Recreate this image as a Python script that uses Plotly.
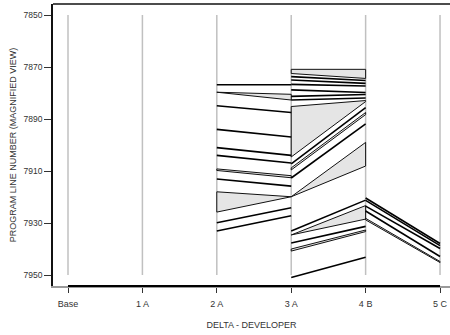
import plotly.graph_objects as go

categories = ["Base", "1 A", "2 A", "3 A", "4 B", "5 C"]
y_ticks = [7850, 7870, 7890, 7910, 7930, 7950]
grid_top = 7850
grid_bottom = 7950

# Transition 2 A -> 3 A : block edges (source top/bottom, destination top/bottom)
a2_src_top = [7876.8, 7879.7, 7884.9, 7894.0, 7901.0, 7904.0, 7909.2, 7913.1, 7918.0, 7929.9, 7933.1]
a2_src_bot = [7876.8, 7879.7, 7884.9, 7894.0, 7901.0, 7904.0, 7909.8, 7913.1, 7925.8, 7929.9, 7933.1]
a2_dst_top = [7876.8, 7880.5, 7887.5, 7896.9, 7904.0, 7906.9, 7911.8, 7915.8, 7919.9, 7924.1, 7927.2]
a2_dst_bot = [7876.8, 7882.7, 7887.5, 7896.9, 7904.0, 7906.9, 7912.6, 7915.8, 7919.9, 7924.1, 7927.2]

# Transition 3 A -> 4 B
a3_src_top = [7870.9, 7873.7, 7875.0, 7876.7, 7878.8, 7881.3, 7882.7, 7885.2, 7907.3, 7908.8, 7912.7,
              7919.9, 7933.1, 7934.6, 7937.7, 7940.0, 7951.0]
a3_src_bot = [7872.5, 7873.7, 7875.0, 7876.7, 7878.8, 7881.3, 7882.7, 7904.6, 7907.3, 7909.6, 7912.7,
              7919.9, 7933.1, 7934.6, 7937.7, 7940.8, 7951.0]
a3_dst_top = [7870.9, 7875.2, 7876.3, 7877.3, 7879.8, 7880.6, 7881.9, 7882.9, 7885.6, 7887.5, 7891.9,
              7899.0, 7921.2, 7923.3, 7931.3, 7932.7, 7943.2]
a3_dst_bot = [7874.4, 7875.2, 7876.3, 7877.3, 7879.8, 7880.6, 7881.9, 7883.3, 7885.6, 7888.3, 7891.9,
              7908.1, 7921.2, 7928.5, 7931.3, 7933.3, 7943.2]

# Transition 4 B -> 5 C
b4_src_top = [7920.4, 7921.3, 7923.5, 7925.4, 7928.2]
b4_src_bot = [7920.4, 7921.3, 7923.5, 7925.4, 7928.8]
b4_dst_top = [7937.9, 7938.7, 7939.8, 7942.9, 7944.8]
b4_dst_bot = [7937.9, 7938.7, 7939.8, 7942.9, 7945.2]

transitions = [
    (2, a2_src_top, a2_src_bot, a2_dst_top, a2_dst_bot),
    (3, a3_src_top, a3_src_bot, a3_dst_top, a3_dst_bot),
    (4, b4_src_top, b4_src_bot, b4_dst_top, b4_dst_bot),
]

FONT = "Liberation Sans, Arial, sans-serif"
fig = go.Figure()

# vertical grey guide lines
gx, gy = [], []
for i in range(len(categories)):
    gx += [i, i, None]
    gy += [grid_top, grid_bottom, None]
fig.add_trace(go.Scatter(x=gx, y=gy, mode="lines", line=dict(color="#c0c0c0", width=1.5),
                         hoverinfo="skip", showlegend=False))

band_x, band_y = [], []
line_x, line_y = [], []
for c, st, sb, dt, db in transitions:
    for a, b, p, q in zip(st, sb, dt, db):
        if abs(a - b) < 1e-9 and abs(p - q) < 1e-9:
            line_x += [c, c + 1, None]
            line_y += [a, p, None]
        else:
            band_x += [c, c + 1, c + 1, c, c, None]
            band_y += [a, p, q, b, a, None]

fig.add_trace(go.Scatter(x=band_x, y=band_y, mode="lines", fill="toself", fillcolor="#e5e5e5",
                         line=dict(color="#111111", width=1), hoverinfo="skip", showlegend=False))
fig.add_trace(go.Scatter(x=line_x, y=line_y, mode="lines",
                         line=dict(color="#000000", width=1.6), hoverinfo="skip", showlegend=False))

# black axis segment from first to last category
fig.add_shape(type="line", xref="x", yref="paper", x0=0, x1=len(categories) - 1, y0=0, y1=0,
              line=dict(color="black", width=2.2))
# top border
fig.add_shape(type="line", xref="paper", yref="paper", x0=0, x1=1, y0=1, y1=1,
              line=dict(color="#111111", width=1.5))

fig.update_layout(
    width=450, height=335,
    margin=dict(l=53, r=0, t=4, b=49),
    paper_bgcolor="white", plot_bgcolor="white",
    font=dict(family=FONT, size=9, color="#333333"),
    xaxis=dict(
        range=[-0.2016, 5.134],
        tickmode="array", tickvals=list(range(len(categories))), ticktext=categories,
        ticks="outside", ticklen=5, tickwidth=1.2, tickcolor="#333333",
        ticklabelstandoff=3,
        showgrid=False, zeroline=False,
        showline=True, linecolor="#9a9a9a", linewidth=1.5,
        tickfont=dict(size=9, color="#333333"),
        title=dict(text="DELTA - DEVELOPER", font=dict(size=9, color="#333333"), standoff=14),
    ),
    yaxis=dict(
        range=[7954.23, 7845.77],
        tickmode="array", tickvals=y_ticks, ticktext=[str(v) for v in y_ticks],
        ticks="outside", ticklen=7, tickwidth=1.2, tickcolor="#333333",
        showgrid=False, zeroline=False,
        showline=True, linecolor="#111111", linewidth=1.8,
        tickfont=dict(size=8.5, color="#333333"),
        title=dict(text="PROGRAM LINE NUMBER (MAGNIFIED VIEW)", font=dict(size=9, color="#333333"),
                   standoff=5),
    ),
)

fig.write_html("out.html")
